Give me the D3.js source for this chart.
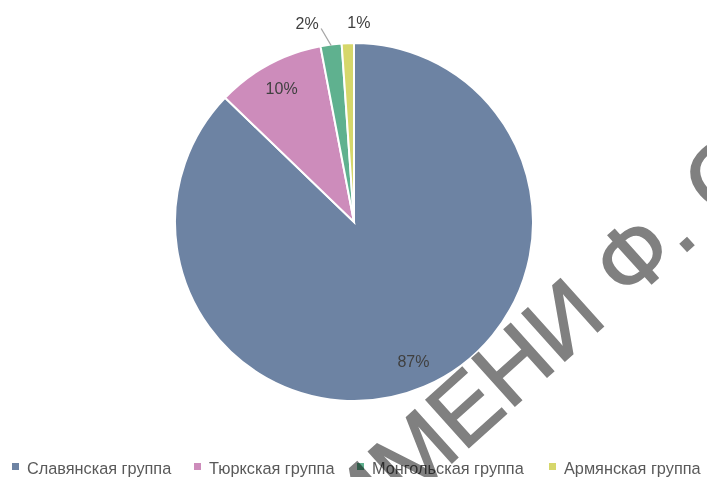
<!DOCTYPE html>
<html>
<head>
<meta charset="utf-8">
<script src="https://cdn.jsdelivr.net/npm/d3@7"></script>
<style>
  html, body { margin: 0; padding: 0; background: #ffffff; }
  svg { display: block; }
</style>
</head>
<body>
<svg id="chart" width="707" height="477"></svg>
<script>
// ---- data ----
const categories = ["Славянская группа", "Тюркская группа", "Монгольская группа", "Армянская группа"];
const values = [87.2, 9.8, 1.9, 1.1];
const pctLabels = ["87%", "10%", "2%", "1%"];
const colors = ["#6d83a3", "#cd8cbb", "#5fb18f", "#d6d76b"];
const watermark = "ИМЕНИ Ф. С";

const svg = d3.select("#chart");
const W = 707, H = 477;
const cx = 354, cy = 222, R = 179;

svg.append("rect").attr("width", W).attr("height", H).attr("fill", "#ffffff");

const pie = d3.pie().sort(null).value(d => d)(values);
const arc = d3.arc().innerRadius(0).outerRadius(R);
const labelArc = d3.arc().innerRadius(152).outerRadius(152);

const g = svg.append("g").attr("transform", `translate(${cx},${cy})`);

g.selectAll("path.slice")
  .data(pie)
  .join("path")
  .attr("class", "slice")
  .attr("d", arc)
  .attr("fill", (d, i) => colors[i])
  .attr("stroke", "#ffffff")
  .attr("stroke-width", 2)
  .attr("stroke-linejoin", "miter");

const fontFam = "'Liberation Sans', Arial, sans-serif";

// labels
pie.forEach((d, i) => {
  const pctShare = values[i] / d3.sum(values);
  if (pctShare > 0.05) {
    const [x, y] = labelArc.centroid(d);
    g.append("text")
      .attr("x", x).attr("y", y)
      .attr("text-anchor", "middle")
      .attr("dominant-baseline", "central")
      .attr("font-family", fontFam)
      .attr("font-size", 16)
      .attr("fill", "#404040")
      .text(pctLabels[i]);
  } else {
    const mid = (d.startAngle + d.endAngle) / 2;
    const px = (r) => Math.sin(mid) * r, py = (r) => -Math.cos(mid) * r;
    if (i === 2) {
      // leader line
      const x0 = px(R - 1), y0 = py(R - 1);
      const x1 = x0 - 10, y1 = y0 - 17;
      g.append("line")
        .attr("x1", x0).attr("y1", y0).attr("x2", x1).attr("y2", y1)
        .attr("stroke", "#a6a6a6").attr("stroke-width", 1.3);
      g.append("text")
        .attr("x", x1 - 14).attr("y", y1 - 5)
        .attr("text-anchor", "middle")
        .attr("dominant-baseline", "central")
        .attr("font-family", fontFam)
        .attr("font-size", 16)
        .attr("fill", "#404040")
        .text(pctLabels[i]);
    } else {
      g.append("text")
        .attr("x", px(R) + 11).attr("y", -cy + 22)
        .attr("text-anchor", "middle")
        .attr("dominant-baseline", "central")
        .attr("font-family", fontFam)
        .attr("font-size", 16)
        .attr("fill", "#404040")
        .text(pctLabels[i]);
    }
  }
});

// legend
const legendX = [12, 194, 357, 549];
const legend = svg.append("g");
categories.forEach((c, i) => {
  legend.append("rect")
    .attr("x", legendX[i]).attr("y", 463)
    .attr("width", 7).attr("height", 7)
    .attr("fill", colors[i]);
  legend.append("text")
    .attr("x", legendX[i] + 15).attr("y", 474)
    .attr("font-family", fontFam)
    .attr("font-size", 16.3)
    .attr("fill", "#595959")
    .text(c);
});

// watermark overlay
svg.append("text")
  .attr("transform", "translate(356,549) rotate(-42)")
  .attr("font-family", fontFam)
  .attr("font-size", 93)
  .attr("fill", "#808080")
  .attr("stroke", "#808080")
  .attr("stroke-width", 1.6)
  .attr("stroke-linejoin", "miter")
  .style("mix-blend-mode", "multiply")
  .text(watermark);
</script>
</body>
</html>
